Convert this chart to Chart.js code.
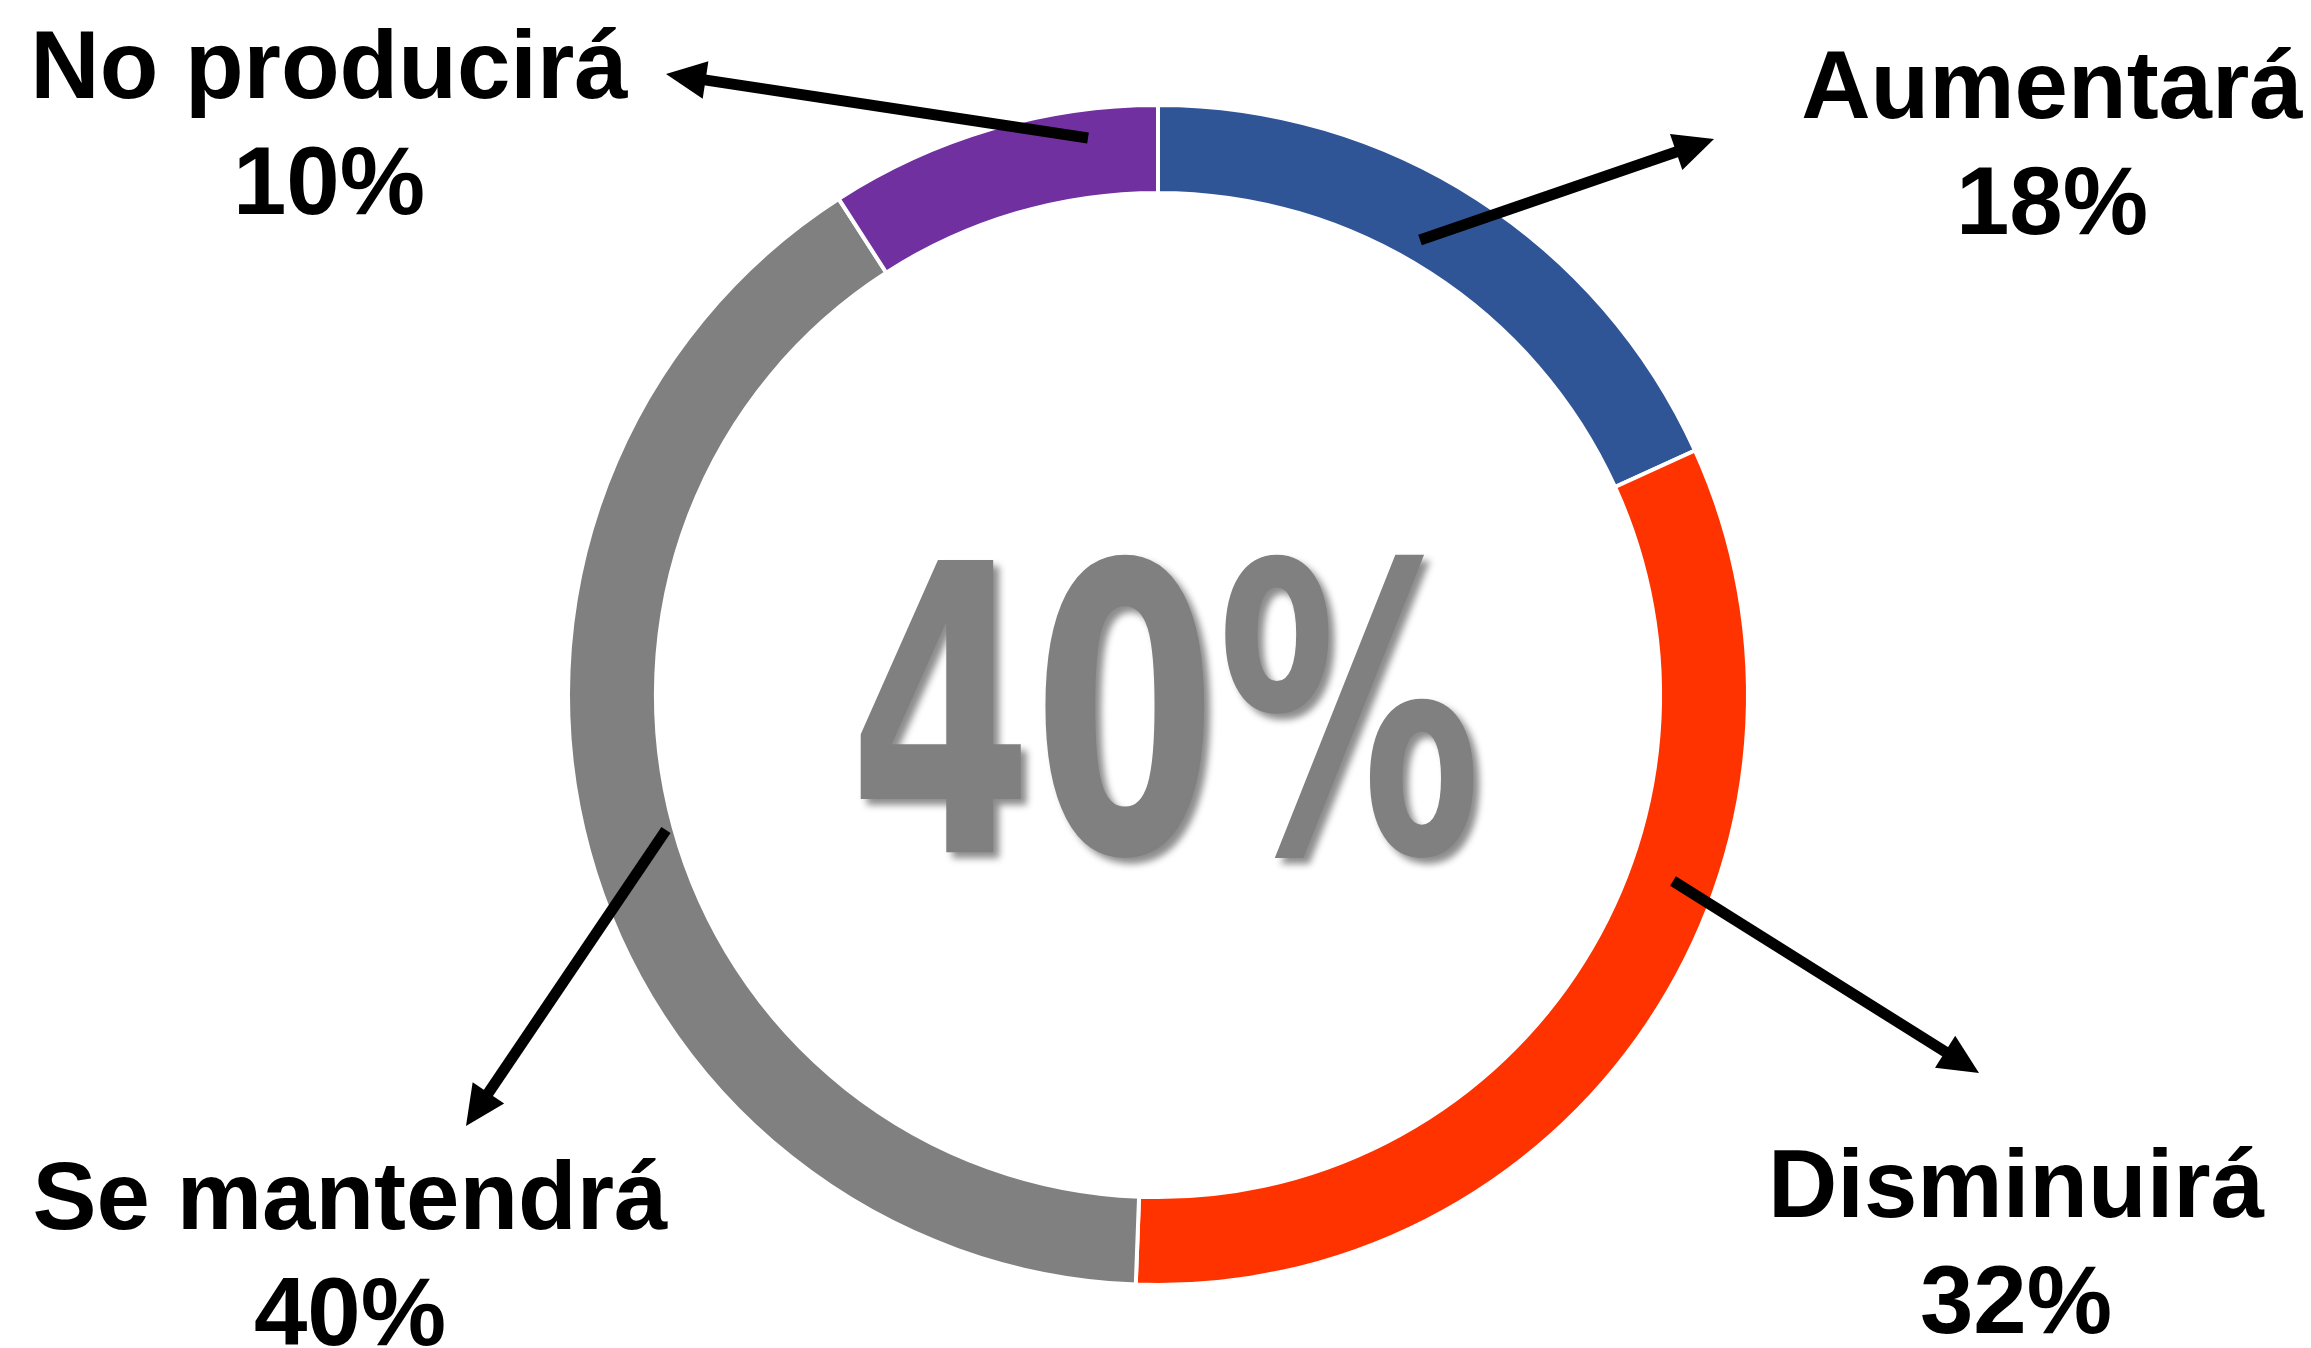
<!DOCTYPE html>
<html lang="es">
<head>
<meta charset="utf-8">
<title>Producción esperada</title>
<script src="https://cdn.jsdelivr.net/npm/chart.js@4.4.1/dist/chart.umd.min.js"></script>
<style>
    html, body { margin: 0; padding: 0; background: #ffffff; }
    #chart { display: block; }
</style>
</head>
<body>
<canvas id="chart" width="2311" height="1348"></canvas>
<script>
const categories = ['Aumentará', 'Disminuirá', 'Se mantendrá', 'No producirá'];
const values = [18.2, 32.4, 40.3, 9.1];
const percentLabels = ['18%', '32%', '40%', '10%'];
const centerLabel = '40%';
const colors = ['#2F5597', '#FF3300', '#808080', '#7030A0'];

// Posición de las etiquetas (centro x, línea base y) y de las flechas
const labelX = [2052, 2016, 350, 329];
const labelY = [118, 1217, 1229, 98];
const lineGap = 116;
const arrowFrom = [[1420, 240], [1673, 881], [666, 830], [1088, 138]];
const arrowTo = [[1714, 139], [1979, 1073], [466, 1126], [666, 74]];

// Caja del número central relativa al centro del anillo
const centerBox = { dx: 8, dy: 10, w: 616, h: 307 };

function drawArrow(ctx, x1, y1, x2, y2) {
    const headLen = 40;
    const headHalf = 19;
    const ang = Math.atan2(y2 - y1, x2 - x1);
    const bx = x2 - headLen * Math.cos(ang);
    const by = y2 - headLen * Math.sin(ang);

    ctx.beginPath();
    ctx.moveTo(x1, y1);
    ctx.lineTo(bx + 6 * Math.cos(ang), by + 6 * Math.sin(ang));
    ctx.lineWidth = 11;
    ctx.lineCap = 'butt';
    ctx.strokeStyle = '#000';
    ctx.stroke();

    ctx.beginPath();
    ctx.moveTo(x2, y2);
    ctx.lineTo(bx + headHalf * Math.sin(ang), by - headHalf * Math.cos(ang));
    ctx.lineTo(bx - headHalf * Math.sin(ang), by + headHalf * Math.cos(ang));
    ctx.closePath();
    ctx.fillStyle = '#000';
    ctx.fill();
}

const annotationPlugin = {
    id: 'annotations',
    afterDraw(chart) {
        const ctx = chart.ctx;
        const arc = chart.getDatasetMeta(0).data[0];
        const cx = arc.x;
        const cy = arc.y;

        // número grande del centro con sombra
        ctx.save();
        ctx.font = 'bold 400px "Liberation Sans Narrow", "DejaVu Sans Condensed", sans-serif';
        ctx.textAlign = 'left';
        ctx.textBaseline = 'alphabetic';
        const m = ctx.measureText(centerLabel);
        const w = m.actualBoundingBoxLeft + m.actualBoundingBoxRight;
        const h = m.actualBoundingBoxAscent + m.actualBoundingBoxDescent;
        ctx.translate(cx + centerBox.dx - centerBox.w / 2, cy + centerBox.dy - centerBox.h / 2);
        ctx.scale(centerBox.w / w, centerBox.h / h);
        ctx.shadowColor = 'rgba(0, 0, 0, 0.45)';
        ctx.shadowOffsetX = 6;
        ctx.shadowOffsetY = 6;
        ctx.shadowBlur = 7;
        ctx.fillStyle = '#808080';
        ctx.fillText(centerLabel, m.actualBoundingBoxLeft, m.actualBoundingBoxAscent);
        ctx.restore();

        // flechas
        ctx.save();
        for (let i = 0; i < categories.length; i++) {
            drawArrow(ctx, arrowFrom[i][0], arrowFrom[i][1], arrowTo[i][0], arrowTo[i][1]);
        }
        ctx.restore();

        // etiquetas
        ctx.save();
        ctx.font = 'bold 96px "Liberation Sans", Arial, sans-serif';
        ctx.textAlign = 'center';
        ctx.textBaseline = 'alphabetic';
        ctx.fillStyle = '#000';
        for (let i = 0; i < categories.length; i++) {
            ctx.fillText(categories[i], labelX[i], labelY[i]);
            ctx.fillText(percentLabels[i], labelX[i], labelY[i] + lineGap);
        }
        ctx.restore();
    }
};

new Chart(document.getElementById('chart'), {
    type: 'doughnut',
    data: {
        labels: categories,
        datasets: [{
            data: values,
            backgroundColor: colors,
            borderColor: '#ffffff',
            borderWidth: 4,
            radius: 590,
            cutout: '85.1%'
        }]
    },
    options: {
        responsive: false,
        animation: false,
        devicePixelRatio: 1,
        layout: {
            padding: { top: 95, bottom: 53, left: 558, right: 553 }
        },
        plugins: {
            legend: { display: false },
            tooltip: { enabled: false }
        }
    },
    plugins: [annotationPlugin]
});
</script>
</body>
</html>
